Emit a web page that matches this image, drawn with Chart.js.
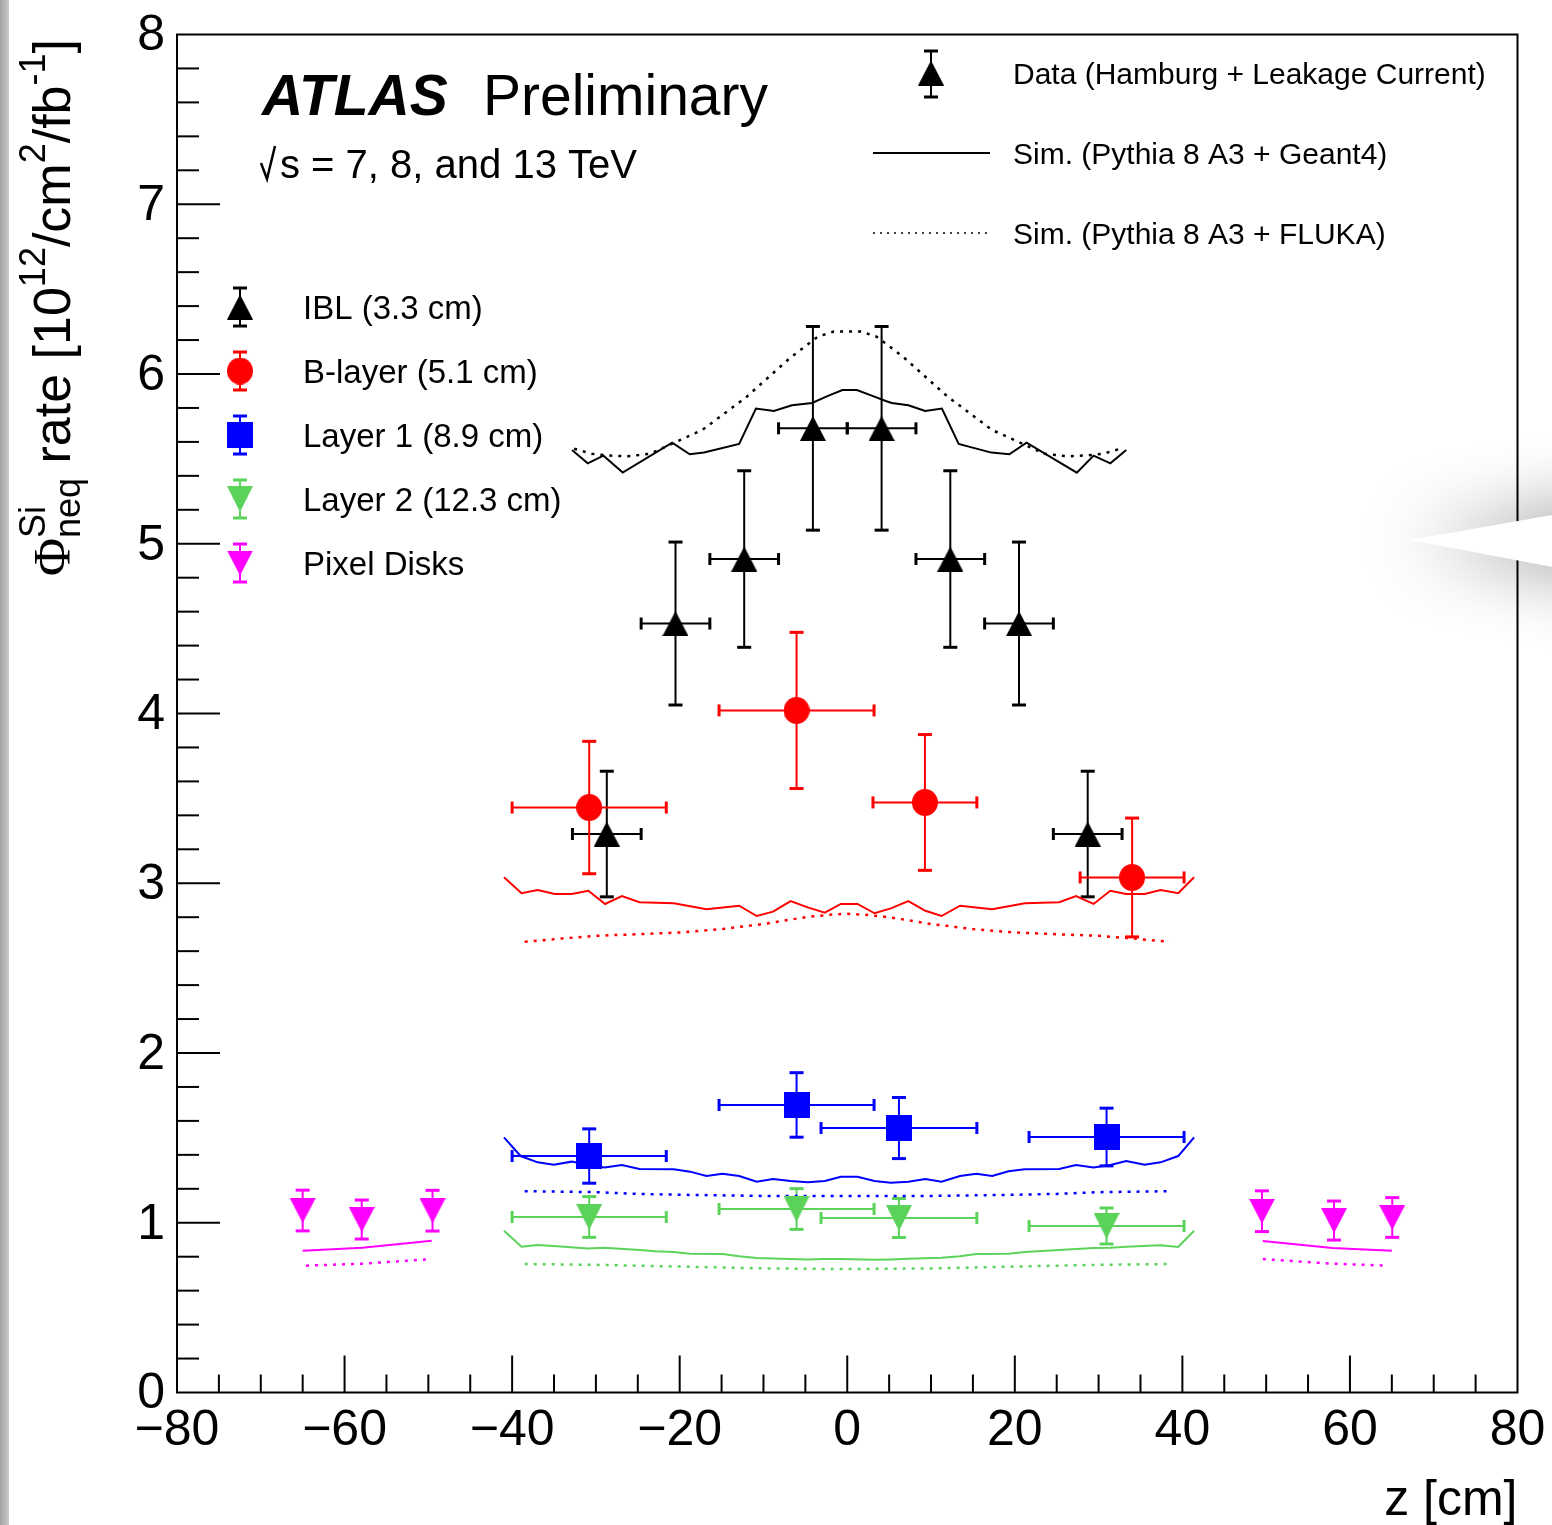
<!DOCTYPE html>
<html>
<head>
<meta charset="utf-8">
<title>Silicon 1 MeV neq fluence rate vs z</title>
<script src="https://cdn.jsdelivr.net/npm/chart.js@4.4.1/dist/chart.umd.min.js"></script>
<style>
  html, body { margin: 0; padding: 0; background: #fff; overflow: hidden; }
  #wrap { position: relative; width: 1552px; height: 1525px; overflow: hidden; }
  #edge { position: absolute; left: 0; top: 0; width: 9px; height: 1525px;
          background: linear-gradient(to right, #a4a4a4, #cacaca); }
  #tip { position: absolute; left: 1300px; top: 380px; width: 400px; height: 320px;
         filter: drop-shadow(0 0 36px rgba(0, 0, 0, 0.42)); pointer-events: none; }
  #tip div { position: absolute; inset: 0; background: #fff;
             clip-path: polygon(110px 160px, 400px 109px, 400px 215px); }
</style>
</head>
<body>
<div id="wrap">
  <canvas id="fluence" width="1552" height="1525"></canvas>
  <div id="edge"></div>
  <div id="tip"><div></div></div>
</div>
<script>
// measured points (z in cm, rate in 10^12 neq/cm^2/fb^-1)
const iblZ = [-28.7, -20.5, -12.3, -4.1, 4.1, 12.3, 20.5, 28.7];
const iblRate = [3.29, 4.53, 4.91, 5.68, 5.68, 4.91, 4.53, 3.29];
const iblErr = [0.37, 0.48, 0.52, 0.60, 0.60, 0.52, 0.48, 0.37];
const iblZErr = [4.1, 4.1, 4.1, 4.1, 4.1, 4.1, 4.1, 4.1];

const blZ = [-30.8, -6.05, 9.27, 34.0];
const blRate = [3.446, 4.018, 3.476, 3.034];
const blErr = [0.39, 0.46, 0.40, 0.35];
const blZErr = [9.2, 9.25, 6.2, 6.2];

const l1Z = [-30.8, -6.05, 6.17, 30.95];
const l1Rate = [1.393, 1.694, 1.558, 1.505];
const l1Err = [0.16, 0.19, 0.18, 0.17];
const l1ZErr = [9.2, 9.25, 9.3, 9.25];

const l2Z = [-30.8, -6.05, 6.17, 30.95];
const l2Rate = [1.034, 1.081, 1.028, 0.981];
const l2Err = [0.12, 0.12, 0.115, 0.106];
const l2ZErr = [9.2, 9.25, 9.3, 9.25];

const diskZ = [-65.0, -57.95, -49.5, 49.5, 58.1, 65.05];
const diskRate = [1.072, 1.019, 1.071, 1.068, 1.013, 1.031];
const diskErr = [0.12, 0.115, 0.12, 0.12, 0.115, 0.117];

// simulation: Pythia 8 A3 + Geant4 (solid) and + FLUKA (dotted)
const iblG4Z = [-32.85, -30.98, -29.1, -26.8, -20.9, -18.8, -17.1, -12.9, -10.9, -8.75, -6.6, -4.2, -2.3, -0.57, 1.15,
  3.0, 4.6, 5.3, 7.3, 9.3, 11.3, 13.3, 17.2, 19.35, 21.4, 27.4, 29.4, 31.4, 33.3];
const iblG4 = [5.552, 5.474, 5.519, 5.419, 5.596, 5.527, 5.537, 5.588, 5.796, 5.782, 5.816, 5.829, 5.871, 5.906, 5.906,
  5.871, 5.841, 5.829, 5.816, 5.782, 5.796, 5.588, 5.537, 5.527, 5.596, 5.419, 5.519, 5.474, 5.552];
const iblFlZ = [-32.6, -30.5, -28.5, -26.2, -23.5, -21.3, -17.3, -12.0, -6.7, -3.5, -1.6, 1.6, 3.5, 6.7, 12.0, 17.3,
  21.3, 23.5, 26.2, 28.5, 30.5, 32.6];
const iblFl = [5.56, 5.53, 5.52, 5.515, 5.53, 5.58, 5.67, 5.866, 6.10, 6.22, 6.25, 6.25, 6.22, 6.10, 5.866, 5.67,
  5.58, 5.53, 5.515, 5.52, 5.53, 5.56];

const blG4Z = [-40.97, -38.88, -36.95, -34.9, -32.9, -30.9, -28.9, -26.9, -24.8, -20.7, -16.8, -12.9, -10.8, -8.85,
  -6.76, -4.72, -2.68, -0.76, 1.22, 3.26, 5.2, 7.29, 9.33, 11.25, 13.46, 17.3, 21.2, 25.3, 27.3, 29.4, 31.4, 33.3,
  35.5, 37.4, 39.5, 41.4];
const blG4 = [3.035, 2.941, 2.960, 2.937, 2.937, 2.956, 2.878, 2.925, 2.888, 2.882, 2.847, 2.868, 2.807, 2.833, 2.895,
  2.858, 2.827, 2.878, 2.878, 2.823, 2.852, 2.895, 2.838, 2.807, 2.868, 2.847, 2.882, 2.888, 2.925, 2.878, 2.956,
  2.937, 2.937, 2.960, 2.941, 3.035];
const blFlZ = [-38.5, -34, -30, -25, -20, -15, -10, -5, -2, 0, 2, 5, 10, 15, 20, 25, 30, 34, 38.5];
const blFl = [2.655, 2.675, 2.69, 2.70, 2.71, 2.73, 2.76, 2.80, 2.815, 2.82, 2.815, 2.80, 2.76, 2.73, 2.71, 2.70,
  2.69, 2.675, 2.655];

const l1G4Z = [-40.97, -38.99, -36.95, -35.03, -32.9, -30.9, -28.96, -26.9, -24.8, -20.7, -18.77, -16.8, -14.9, -12.9,
  -10.8, -8.85, -6.76, -4.72, -2.68, -0.76, 1.22, 3.26, 5.2, 7.29, 9.33, 11.25, 13.46, 15.4, 17.3, 19.25, 21.2, 25.3,
  27.3, 29.4, 31.4, 33.3, 35.5, 37.4, 39.5, 41.4];
const l1G4 = [1.503, 1.393, 1.356, 1.342, 1.360, 1.340, 1.326, 1.340, 1.317, 1.315, 1.301, 1.275, 1.289, 1.275,
  1.242, 1.258, 1.246, 1.238, 1.246, 1.271, 1.271, 1.246, 1.236, 1.242, 1.258, 1.242, 1.275, 1.289, 1.275, 1.303,
  1.315, 1.317, 1.340, 1.326, 1.340, 1.364, 1.342, 1.356, 1.393, 1.503];
const l1FlZ = [-38.5, -30, -25, -20, -10, 0, 10, 20, 25, 30, 38.5];
const l1Fl = [1.186, 1.18, 1.17, 1.165, 1.158, 1.157, 1.158, 1.165, 1.17, 1.18, 1.186];

const l2G4Z = [-40.97, -38.88, -36.95, -35.03, -30.9, -28.96, -24.8, -22.9, -20.7, -18.77, -14.9, -12.9, -10.8,
  -8.85, -4.72, -2.68, -0.76, 3.26, 5.2, 7.29, 11.25, 13.46, 15.4, 19.25, 21.2, 25.3, 29.4, 31.4, 33.3, 37.4, 39.5,
  41.4];
const l2G4 = [0.953, 0.859, 0.869, 0.863, 0.849, 0.853, 0.839, 0.832, 0.828, 0.818, 0.816, 0.802, 0.792, 0.790,
  0.784, 0.786, 0.786, 0.782, 0.784, 0.788, 0.794, 0.802, 0.816, 0.818, 0.828, 0.839, 0.851, 0.853, 0.859, 0.867,
  0.857, 0.953];
const l2FlZ = [-38.5, -30, -20, -10, 0, 10, 20, 30, 38.5];
const l2Fl = [0.757, 0.752, 0.742, 0.731, 0.727, 0.731, 0.742, 0.752, 0.757];

const diskG4ZLeft = [-65.0, -57.9, -49.6];
const diskG4Left = [0.835, 0.853, 0.894];
const diskG4ZRight = [49.6, 57.9, 65.0];
const diskG4Right = [0.892, 0.851, 0.835];
const diskFlZLeft = [-64.6, -57.9, -49.6];
const diskFlLeft = [0.747, 0.759, 0.786];
const diskFlZRight = [49.6, 57.9, 64.6];
const diskFlRight = [0.786, 0.759, 0.747];

const xTicks = [-80, -60, -40, -20, 0, 20, 40, 60, 80];
const yTicks = [0, 1, 2, 3, 4, 5, 6, 7, 8];
const layerNames = ['IBL (3.3 cm)', 'B-layer (5.1 cm)', 'Layer 1 (8.9 cm)', 'Layer 2 (12.3 cm)', 'Pixel Disks'];
const simNames = ['Data (Hamburg + Leakage Current)', 'Sim. (Pythia 8 A3 + Geant4)', 'Sim. (Pythia 8 A3 + FLUKA)'];

const SANS = '"Liberation Sans", Arial, Helvetica, sans-serif';
const BLACK = '#000000', RED = '#ff0000', BLUE = '#0000ff', GREEN = '#5bd35b', MAGENTA = '#ff00ff';

const pts = (xs, ys) => xs.map((x, i) => ({ x: x, y: ys[i] }));

// ROOT-like filled markers as small canvases
function marker(shape, color, w, h) {
  const c = document.createElement('canvas');
  c.width = w; c.height = h;
  const g = c.getContext('2d');
  g.fillStyle = color;
  g.beginPath();
  if (shape === 'up') { g.moveTo(w / 2, 0); g.lineTo(w, h); g.lineTo(0, h); }
  else if (shape === 'down') { g.moveTo(0, 0); g.lineTo(w, 0); g.lineTo(w / 2, h); }
  else if (shape === 'circle') { g.ellipse(w / 2, h / 2, w / 2, h / 2, 0, 0, Math.PI * 2); }
  else { g.rect(0, 0, w, h); }
  g.closePath();
  g.fill();
  return c;
}

const mkIbl = marker('up', BLACK, 26, 25);
const mkBl = marker('circle', RED, 26, 27);
const mkL1 = marker('rect', BLUE, 26, 26);
const mkL2 = marker('down', GREEN, 26, 26);
const mkDisk = marker('down', MAGENTA, 26, 25);

function dataSet(label, xs, ys, yErr, xErr, color, mk) {
  return {
    label: label, data: pts(xs, ys), yErr: yErr, xErr: xErr, barColor: color,
    pointStyle: mk, pointRadius: 13, showLine: false
  };
}

function simLine(label, xs, ys, color, dotted) {
  return {
    label: label, data: pts(xs, ys), showLine: true, pointRadius: 0, fill: false, tension: 0,
    borderColor: color, borderWidth: dotted ? 2.5 : 2, borderDash: dotted ? [3, 6] : [],
    borderCapStyle: 'butt'
  };
}

function seg(ctx, x1, y1, x2, y2) {
  ctx.beginPath(); ctx.moveTo(x1, y1); ctx.lineTo(x2, y2); ctx.stroke();
}

// vertical/horizontal error bars with end caps, under the markers
const errorBars = {
  id: 'errorBars',
  beforeDatasetsDraw(chart) {
    const { ctx, scales: { x, y } } = chart;
    chart.data.datasets.forEach(ds => {
      if (!ds.yErr) return;
      ctx.save();
      ctx.strokeStyle = ds.barColor;
      ds.data.forEach((p, i) => {
        const px = x.getPixelForValue(p.x);
        const py = y.getPixelForValue(p.y);
        const top = y.getPixelForValue(p.y + ds.yErr[i]);
        const bot = y.getPixelForValue(p.y - ds.yErr[i]);
        ctx.lineWidth = 2;
        seg(ctx, px, top, px, bot);
        ctx.lineWidth = 3;
        seg(ctx, px - 7, top, px + 7, top);
        seg(ctx, px - 7, bot, px + 7, bot);
        if (ds.xErr) {
          const lft = x.getPixelForValue(p.x - ds.xErr[i]);
          const rgt = x.getPixelForValue(p.x + ds.xErr[i]);
          ctx.lineWidth = 2;
          seg(ctx, lft, py, rgt, py);
          ctx.lineWidth = 3;
          seg(ctx, lft, py - 6, lft, py + 6);
          seg(ctx, rgt, py - 6, rgt, py + 6);
        }
      });
      ctx.restore();
    });
  }
};

// frame, inward ticks, titles and legends
const decorations = {
  id: 'decorations',
  afterDraw(chart) {
    const { ctx, chartArea: a, scales: { x, y } } = chart;
    ctx.save();
    ctx.strokeStyle = BLACK;
    ctx.lineWidth = 2;
    ctx.strokeRect(a.left, a.top, a.right - a.left, a.bottom - a.top);

    for (let k = -15; k <= 15; k++) {
      const px = x.getPixelForValue(k * 5);
      seg(ctx, px, a.bottom, px, a.bottom - (k % 4 === 0 ? 37 : 18));
    }
    for (let k = 1; k < 40; k++) {
      const py = y.getPixelForValue(k * 0.2);
      seg(ctx, a.left, py, a.left + (k % 5 === 0 ? 43 : 22), py);
    }

    ctx.fillStyle = BLACK;
    ctx.textBaseline = 'alphabetic';

    // x title
    ctx.font = '50px ' + SANS;
    ctx.textAlign = 'right';
    ctx.fillText('z [cm]', a.right, 1515);

    // y title, rotated, with super/subscripts
    ctx.save();
    ctx.translate(70, 576);
    ctx.rotate(-Math.PI / 2);
    ctx.textAlign = 'left';
    let cx = 0;
    const big = '52px ' + SANS, small = '36px ' + SANS;
    const put = (txt, font, dy) => {
      ctx.font = font;
      ctx.fillText(txt, cx, dy);
      return ctx.measureText(txt).width;
    };
    cx += put('\u03A6', '52px "Liberation Serif", serif', 0);
    const wSup = (ctx.font = small, ctx.measureText('Si').width);
    put('Si', small, -25);
    cx += Math.max(wSup, put('neq', small, 10));
    cx += put(' rate [10', big, 0);
    cx += put('12', small, -25);
    cx += put('/cm', big, 0);
    cx += put('2', small, -25);
    cx += put('/fb', big, 0);
    cx += put('-1', small, -25);
    put(']', big, 0);
    ctx.restore();

    // ATLAS label
    ctx.textAlign = 'left';
    ctx.font = 'italic bold 57px ' + SANS;
    ctx.fillText('ATLAS', 262, 115);
    ctx.font = '57px ' + SANS;
    ctx.fillText('Preliminary', 483, 115);
    ctx.font = '40px ' + SANS;
    ctx.fillText('s = 7, 8, and 13 TeV', 280, 178);
    ctx.lineWidth = 2.5;
    ctx.beginPath();
    ctx.moveTo(261, 163); ctx.lineTo(267, 179); ctx.lineTo(275, 146);
    ctx.stroke();

    // layer legend
    const mks = [mkIbl, mkBl, mkL1, mkL2, mkDisk];
    const cols = [BLACK, RED, BLUE, GREEN, MAGENTA];
    ctx.font = '33px ' + SANS;
    layerNames.forEach((name, i) => {
      const ly = 307 + 64 * i;
      ctx.strokeStyle = cols[i];
      ctx.lineWidth = 2;
      seg(ctx, 240, ly - 19, 240, ly + 19);
      ctx.lineWidth = 3;
      seg(ctx, 233, ly - 19, 247, ly - 19);
      seg(ctx, 233, ly + 19, 247, ly + 19);
      ctx.drawImage(mks[i], 240 - mks[i].width / 2, ly - mks[i].height / 2);
      ctx.fillStyle = BLACK;
      ctx.fillText(name, 303, ly + 12);
    });

    // data / simulation legend
    ctx.strokeStyle = BLACK;
    ctx.lineWidth = 2;
    seg(ctx, 931, 51, 931, 97);
    ctx.lineWidth = 3;
    seg(ctx, 924, 51, 938, 51);
    seg(ctx, 924, 97, 938, 97);
    ctx.drawImage(mkIbl, 931 - 13, 73 - 12.5);
    ctx.lineWidth = 2;
    seg(ctx, 873, 153, 990, 153);
    ctx.lineWidth = 1.5;
    ctx.setLineDash([2, 5]);
    seg(ctx, 873, 233, 990, 233);
    ctx.setLineDash([]);
    ctx.font = '30px ' + SANS;
    simNames.forEach((name, i) => ctx.fillText(name, 1013, 84 + 80 * i));
    ctx.restore();
  }
};

new Chart(document.getElementById('fluence'), {
  type: 'scatter',
  data: {
    datasets: [
      dataSet('IBL', iblZ, iblRate, iblErr, iblZErr, BLACK, mkIbl),
      dataSet('B-layer', blZ, blRate, blErr, blZErr, RED, mkBl),
      dataSet('Layer 1', l1Z, l1Rate, l1Err, l1ZErr, BLUE, mkL1),
      dataSet('Layer 2', l2Z, l2Rate, l2Err, l2ZErr, GREEN, mkL2),
      dataSet('Pixel Disks', diskZ, diskRate, diskErr, null, MAGENTA, mkDisk),
      simLine('IBL Geant4', iblG4Z, iblG4, BLACK, false),
      simLine('IBL FLUKA', iblFlZ, iblFl, BLACK, true),
      simLine('B-layer Geant4', blG4Z, blG4, RED, false),
      simLine('B-layer FLUKA', blFlZ, blFl, RED, true),
      simLine('Layer 1 Geant4', l1G4Z, l1G4, BLUE, false),
      simLine('Layer 1 FLUKA', l1FlZ, l1Fl, BLUE, true),
      simLine('Layer 2 Geant4', l2G4Z, l2G4, GREEN, false),
      simLine('Layer 2 FLUKA', l2FlZ, l2Fl, GREEN, true),
      simLine('Disks Geant4 (C)', diskG4ZLeft, diskG4Left, MAGENTA, false),
      simLine('Disks Geant4 (A)', diskG4ZRight, diskG4Right, MAGENTA, false),
      simLine('Disks FLUKA (C)', diskFlZLeft, diskFlLeft, MAGENTA, true),
      simLine('Disks FLUKA (A)', diskFlZRight, diskFlRight, MAGENTA, true)
    ]
  },
  options: {
    responsive: false,
    animation: false,
    devicePixelRatio: 1,
    events: [],
    layout: { padding: { top: 34.5, right: 34.5, bottom: 0, left: 0 } },
    plugins: { legend: { display: false }, tooltip: { enabled: false } },
    scales: {
      x: {
        type: 'linear', min: -80, max: 80,
        afterFit: s => { s.height = 132.5; },
        afterBuildTicks: s => { s.ticks = xTicks.map(v => ({ value: v })); },
        grid: { display: false, drawTicks: false },
        border: { display: false },
        ticks: {
          autoSkip: false, maxRotation: 0, padding: 0, color: BLACK,
          font: { family: SANS, size: 50, lineHeight: 1.56 },
          callback: v => (v < 0 ? '\u2212' + Math.abs(v) : String(v))
        }
      },
      y: {
        type: 'linear', min: 0, max: 8,
        afterFit: s => { s.width = 177; },
        afterBuildTicks: s => { s.ticks = yTicks.map(v => ({ value: v })); },
        grid: { display: false, drawTicks: false },
        border: { display: false },
        ticks: {
          autoSkip: false, padding: 12, color: BLACK, labelOffset: 2,
          font: { family: SANS, size: 50, lineHeight: 0.8 }
        }
      }
    }
  },
  plugins: [errorBars, decorations]
});
</script>
</body>
</html>
